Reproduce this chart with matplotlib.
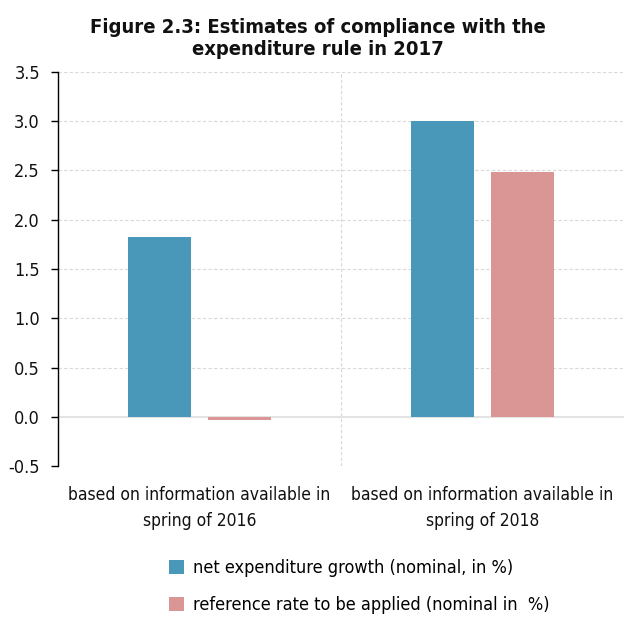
import matplotlib.pyplot as plt
import numpy as np
from matplotlib import font_manager

categories = ["based on information available in\nspring of 2016",
              "based on information available in\nspring of 2018"]
net_growth = [1.82, 3.0]
reference_rate = [-0.03, 2.48]
series_names = ["net expenditure growth (nominal, in %)",
                "reference rate to be applied (nominal in  %)"]
yticks = [-0.5, 0.0, 0.5, 1.0, 1.5, 2.0, 2.5, 3.0, 3.5]

plt.rcParams['font.family'] = 'DejaVu Sans'
plt.rcParams['font.stretch'] = 'condensed'

fig = plt.figure(figsize=(6.24, 6.19), dpi=100)
ax = fig.add_axes([0.093, 0.247, 0.907, 0.637])

x = np.arange(len(categories))
w = 0.223
ax.bar(x - 0.142, net_growth, w, color='#4a98b9', label=series_names[0], zorder=3)
ax.bar(x + 0.142, reference_rate, w, color='#da9695', label=series_names[1], zorder=3)

ax.set_xlim(-0.5, 1.5)
ax.set_ylim(-0.5, 3.5)
ax.set_yticks(yticks)
ax.set_yticklabels(["%.1f" % v for v in yticks], fontsize=13, color='#111111')
ax.set_xticks(x)
ax.set_xticklabels(categories, fontsize=12.5, linespacing=1.6, color='#111111')
ax.tick_params(axis='x', length=0, pad=14)
ax.tick_params(axis='y', length=5, width=1, direction='out', pad=8)

for v in yticks:
    if v != 0:
        ax.axhline(v, color='#d9d9d9', lw=0.8, ls=(0, (3, 2)), zorder=1)
ax.axhline(0, color='#e3e3e3', lw=1.5, zorder=2)
ax.axvline(0.5, color='#d9d9d9', lw=0.8, ls=(0, (3, 2)), zorder=1)

for s in ['top', 'right', 'bottom']:
    ax.spines[s].set_visible(False)
ax.spines['left'].set_color('black')
ax.spines['left'].set_linewidth(1)

fig.text(0.51, 0.937, "Figure 2.3: Estimates of compliance with the\nexpenditure rule in 2017",
         ha='center', va='center', fontsize=14.5, fontweight='bold', linespacing=1.2,
         color='#111111')

fig.legend(loc='upper left', bbox_to_anchor=(0.245, 0.123), frameon=False,
           fontsize=13, handlelength=0.8, handleheight=0.8, labelspacing=1.05,
           handletextpad=0.5)

fig.savefig("out.png", dpi=100)
